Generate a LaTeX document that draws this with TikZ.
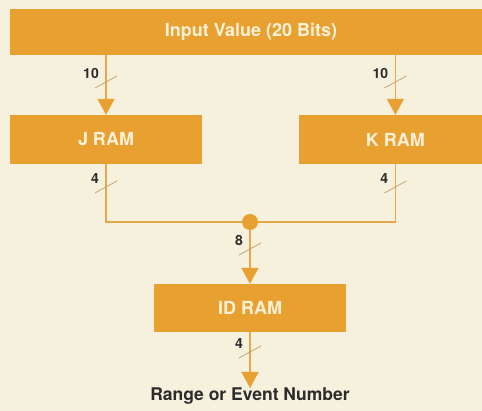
\documentclass[tikz,border=0pt]{standalone}
\usepackage{fontspec}
\setmainfont{TeX Gyre Heros}
\usetikzlibrary{positioning,calc,arrows.meta}
\definecolor{paper}{HTML}{F6F1DD}
\definecolor{ochre}{HTML}{E8A030}
\definecolor{wirecol}{HTML}{E4A948}
\definecolor{tickcol}{HTML}{C9A574}
\definecolor{ink}{HTML}{2B2B2B}
\definecolor{boxtxt}{HTML}{FBF1D8}
\tikzset{
ram/.style={rectangle,fill=ochre,minimum width=192pt,minimum height=49pt,
  inner sep=0pt,text=boxtxt,font=\bfseries\fontsize{18}{20}\selectfont},
wire/.style={draw=wirecol,line width=1.3pt},
bus/.style={wire,-{Triangle[width=17pt,length=16pt,color=ochre]}},
tick/.style={draw=tickcol,line width=0.8pt},
bits/.style={font=\bfseries\fontsize{14}{16}\selectfont,text=ink,
  anchor=south east,inner sep=0pt},
junct/.style={circle,fill=ochre,minimum size=16pt,inner sep=0pt},
}
\newcommand{\busmark}[2]{%
  \draw[tick] ($(#1)+(-11,6)$) -- ($(#1)+(11,-6)$);
  \node[bits] at ($(#1)+(-7,-3)$) {#2};}

\begin{document}
\begin{tikzpicture}[x=1pt,y=-1pt]
	\clip (0,0) rectangle (482,411);
	\fill[paper] (0,0) rectangle (482,411);

	\node[ram,minimum width=482pt,minimum height=46pt] (inval) at (251,32) {Input Value (20 Bits)};
	\node[ram] (jram) at (106,139.5) {J RAM};
	\node[ram,right=97pt of jram] (kram) {K RAM};
	\node[junct] (dot) at (250,222) {};
	\node[ram,minimum height=48pt] (idram) at (250,308) {ID RAM};
	\coordinate (out) at (250,388);
	\node[anchor=base,inner sep=0pt,text=ink,
	  font=\bfseries\fontsize{17.5}{20}\selectfont] (outlbl) at (out |- 0,401) {Range or Event Number};

	\draw[bus] (inval.south -| jram.north) -- (jram.north);
	\draw[bus] (inval.south -| kram.north) -- (kram.north);
	\draw[wire] (jram.south) |- (dot);
	\draw[wire] (kram.south) |- (dot);
	\draw[bus] (dot) -- (idram.north);
	\draw[bus] (idram.south) -- (out);

	\coordinate (jin) at (jram.north |- 0,82);
	\coordinate (kin) at (kram.north |- 0,82);
	\coordinate (jout) at (jram.south |- 0,187);
	\coordinate (kout) at (kram.south |- 0,187);
	\coordinate (idin) at (dot |- 0,249);
	\coordinate (idout) at (idram.south |- 0,352);
	\busmark{jin}{10}
	\busmark{kin}{10}
	\busmark{jout}{4}
	\busmark{kout}{4}
	\busmark{idin}{8}
	\busmark{idout}{4}
\end{tikzpicture}
\end{document}
